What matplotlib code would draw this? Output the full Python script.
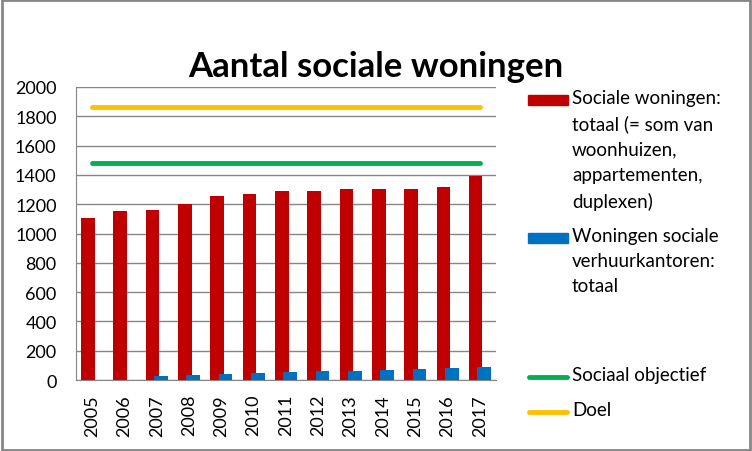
import numpy as np
import matplotlib.pyplot as plt
from matplotlib.patches import Rectangle

plt.rcParams['font.family'] = ['Lato', 'DejaVu Sans']

jaren = ['2005', '2006', '2007', '2008', '2009', '2010', '2011', '2012',
         '2013', '2014', '2015', '2016', '2017']
sociale_totaal = [1106, 1153, 1160, 1201, 1256, 1270, 1290, 1290, 1304, 1304, 1304, 1317, 1395]
svk_totaal = [0, 0, 25, 33, 40, 47, 55, 62, 62, 69, 76, 83, 90]
sociaal_objectief = [1483] * 13
doel = [1863] * 13

red = '#c00000'
blue = '#0070c0'
green = '#00b050'
yellow = '#ffc000'

W, H = 752, 452
fig = plt.figure(figsize=(W / 100, H / 100), dpi=100)
ax = fig.add_axes([76 / W, 1 - 381 / H, 420 / W, 293 / H])

x = np.arange(len(jaren))
w = 0.42
ax.bar(x - 0.13, sociale_totaal, w, color=red, zorder=2)
ax.bar(x + 0.13, svk_totaal, w, color=blue, zorder=3)
ax.plot(x, sociaal_objectief, color=green, lw=3.5, solid_capstyle='round', zorder=4)
ax.plot(x, doel, color=yellow, lw=3.5, solid_capstyle='round', zorder=4)

ax.set_xlim(-0.5, len(jaren) - 0.5)
ax.set_ylim(0, 2000)
ax.set_yticks(range(0, 2001, 200))
ax.set_xticks(x)
ax.set_xticklabels(jaren, rotation=90, fontsize=13)
ax.tick_params(axis='y', labelsize=13, length=0, pad=14)
ax.tick_params(axis='x', length=0, pad=10)
ax.grid(axis='y', color='#868686', lw=1, zorder=0)
for s in ['top', 'right']:
    ax.spines[s].set_visible(False)
for s in ['left', 'bottom']:
    ax.spines[s].set_color('#868686')
ax.set_axisbelow(True)

fig.text(0.5, 1 - 77 / H, 'Aantal sociale woningen', ha='center', va='baseline',
         fontsize=25, fontweight='bold')

# legend, drawn by hand so the keys sit beside the first text line
legend_items = [
    ('bar', red, 101, 'Sociale woningen:\ntotaal (= som van\nwoonhuizen,\nappartementen,\nduplexen)'),
    ('bar', blue, 239, 'Woningen sociale\nverhuurkantoren:\ntotaal'),
    ('line', green, 378, 'Sociaal objectief'),
    ('line', yellow, 413, 'Doel'),
]
for kind, col, ypix, label in legend_items:
    yc = 1 - ypix / H
    if kind == 'bar':
        fig.add_artist(Rectangle((528 / W, yc - 5 / H), 40 / W, 10 / H,
                                 transform=fig.transFigure, color=col))
    else:
        fig.add_artist(plt.Line2D([529 / W, 567 / W], [yc, yc], transform=fig.transFigure,
                                  color=col, lw=3.5, solid_capstyle='round'))
    fig.text(572 / W, yc + 11 / H, label, ha='left', va='top', fontsize=13.5,
             linespacing=1.58)

fig.add_artist(Rectangle((0.002, 0.002), 0.996, 0.995, transform=fig.transFigure,
                         fill=False, edgecolor='#868686', lw=2))

fig.savefig('out.png', dpi=100)
